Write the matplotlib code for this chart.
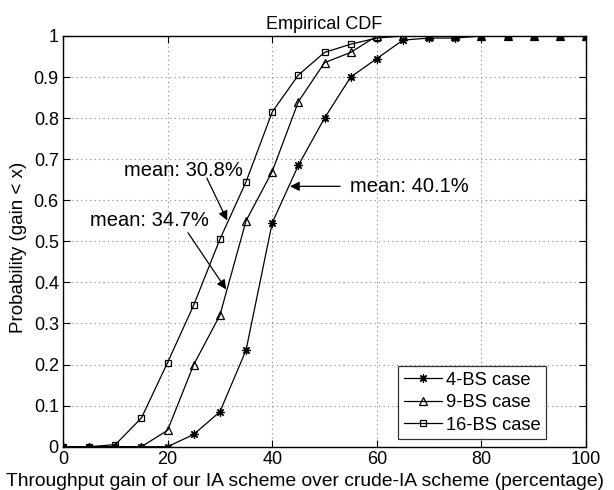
import matplotlib
matplotlib.use("Agg")
import matplotlib.pyplot as plt
import numpy as np

plt.rcParams['font.family'] = ['Liberation Sans', 'DejaVu Sans']

x = list(range(0, 101, 5))
bs4 = [0, 0, 0, 0, 0, 0.03, 0.085, 0.235, 0.545, 0.685, 0.80, 0.90, 0.945, 0.99, 0.995, 0.995, 1, 1, 1, 1, 1]
bs9 = [0, 0, 0, 0, 0.04, 0.20, 0.32, 0.55, 0.67, 0.84, 0.935, 0.96, 1.0, 1.0, 1, 1, 1, 1, 1, 1, 1]
bs16 = [0, 0, 0.005, 0.07, 0.205, 0.345, 0.505, 0.645, 0.815, 0.905, 0.96, 0.98, 0.995, 1, 1, 1, 1, 1, 1, 1, 1]
labels = ['4-BS case', '9-BS case', '16-BS case']
xticks = [0, 20, 40, 60, 80, 100]
yticks = [0, 0.1, 0.2, 0.3, 0.4, 0.5, 0.6, 0.7, 0.8, 0.9, 1]

W, H = 614, 490
fig = plt.figure(figsize=(6.14, 4.9), dpi=100)
ax = fig.add_axes([63 / W, (H - 446.7) / H, (586 - 63) / W, (446.7 - 36) / H])

ax.plot(x, bs4, color='black', lw=0.9, marker=(8, 2, 0), ms=6, mew=0.9, mfc='black', label=labels[0])
ax.plot(x, bs9, color='black', lw=0.9, marker='^', ms=6, mfc='none', mew=0.9, label=labels[1])
ax.plot(x, bs16, color='black', lw=0.9, marker='s', ms=4.5, mfc='none', mew=0.9, label=labels[2])

ax.set_xlim(0, 100)
ax.set_ylim(0, 1)
ax.set_xticks(xticks)
ax.set_yticks(yticks)
ax.set_yticklabels(['0', '0.1', '0.2', '0.3', '0.4', '0.5', '0.6', '0.7', '0.8', '0.9', '1'])
ax.tick_params(direction='in', labelsize=13, top=True, right=True, length=5, pad=3)
ax.grid(True, linestyle=(0, (1, 3)), color='#888888', lw=0.8)
for s in ax.spines.values():
    s.set_linewidth(1.0)

ax.set_title('Empirical CDF', fontsize=13, pad=5)
fig.text(305 / W, 1 - 481 / H, 'Throughput gain of our IA scheme over crude-IA scheme (percentage)',
         fontsize=13.9, ha='center', va='center')
fig.text(19 / W, 1 - 247 / H, 'Probability (gain < x)', fontsize=13.5,
         rotation=90, ha='center', va='center')

arrowprops = dict(arrowstyle='-|>', color='black', lw=0.9, mutation_scale=14, shrinkA=0, shrinkB=0)
ax.annotate('', xy=(31.4, 0.551), xytext=(27.5, 0.654), arrowprops=arrowprops)
ax.text(23.1, 0.673, 'mean: 30.8%', fontsize=14.5, ha='center', va='center')
ax.annotate('', xy=(31.2, 0.383), xytext=(23.9, 0.521), arrowprops=arrowprops)
ax.text(16.6, 0.551, 'mean: 34.7%', fontsize=14.5, ha='center', va='center')
ax.annotate('', xy=(43.4, 0.634), xytext=(53.0, 0.634), arrowprops=arrowprops)
ax.text(66.3, 0.634, 'mean: 40.1%', fontsize=14.5, ha='center', va='center')

leg = ax.legend(loc='lower right', bbox_to_anchor=((546 - 63) / 523, (446.7 - 439) / 410.7),
                fontsize=13.2, frameon=True, fancybox=False,
                edgecolor='black', handlelength=2.1, handletextpad=0.2,
                borderaxespad=0.0, labelspacing=0.3, borderpad=0.3)
leg.get_frame().set_linewidth(0.9)

fig.savefig('out.png', dpi=100)
